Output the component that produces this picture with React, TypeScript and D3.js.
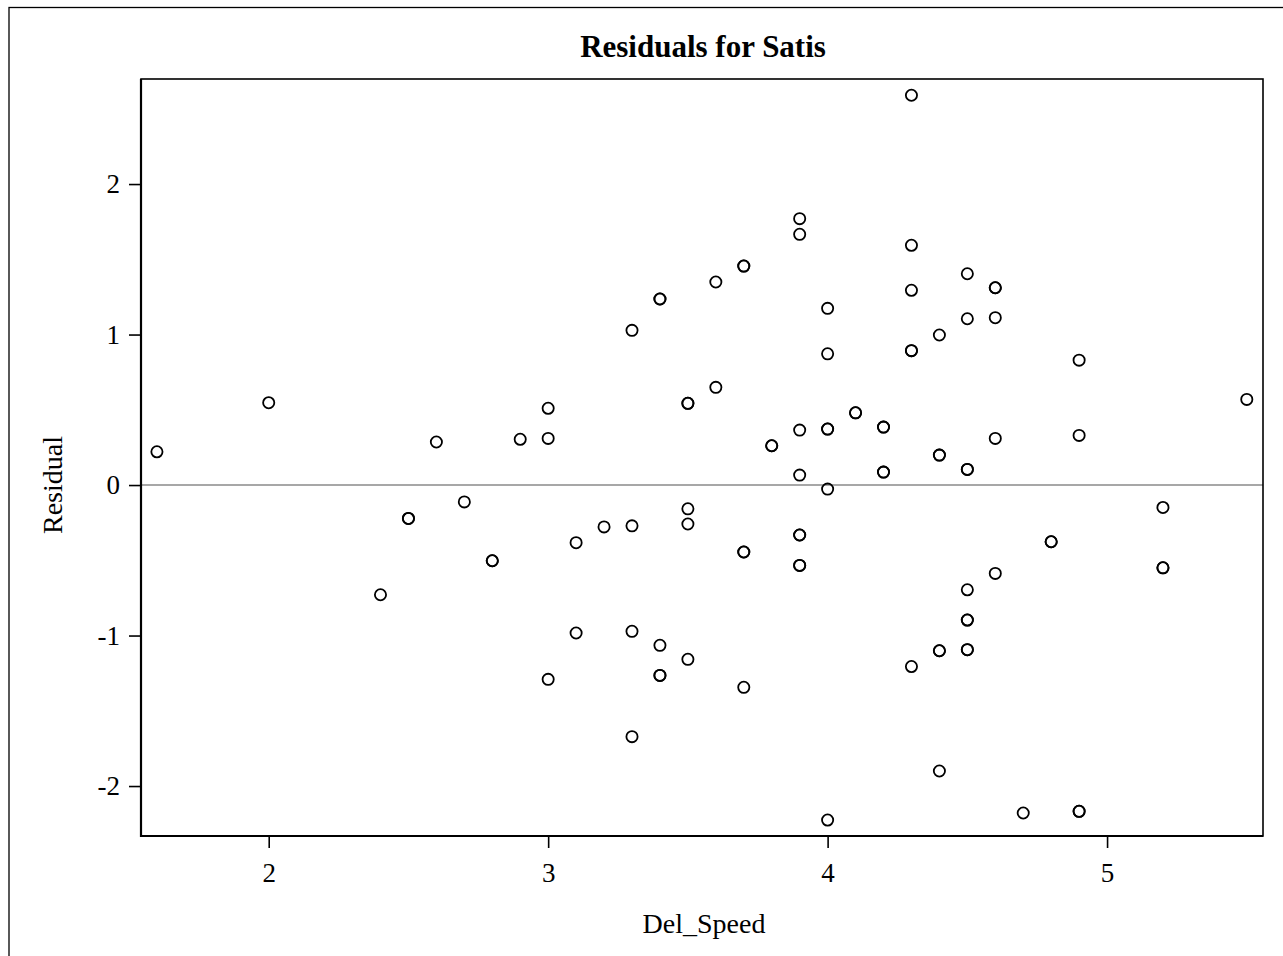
import React, { useEffect, useRef } from 'react'
import * as d3 from 'd3'

// Del_Speed values (x) and residuals (y); repeated pairs are overlapping points
const delSpeed = [
  1.6, 2.0, 2.4, 2.5, 2.5, 2.6, 2.7, 2.8, 2.8, 2.9,
  3.0, 3.0, 3.0, 3.1, 3.1, 3.2, 3.3, 3.3, 3.3, 3.3,
  3.4, 3.4, 3.4, 3.4, 3.4, 3.5, 3.5, 3.5, 3.5, 3.5,
  3.6, 3.6, 3.7, 3.7, 3.7, 3.7, 3.7, 3.8, 3.8, 3.9,
  3.9, 3.9, 3.9, 3.9, 3.9, 3.9, 3.9, 4.0, 4.0, 4.0,
  4.0, 4.0, 4.0, 4.1, 4.1, 4.2, 4.2, 4.2, 4.2, 4.3,
  4.3, 4.3, 4.3, 4.3, 4.3, 4.4, 4.4, 4.4, 4.4, 4.4,
  4.4, 4.5, 4.5, 4.5, 4.5, 4.5, 4.5, 4.5, 4.5, 4.5,
  4.6, 4.6, 4.6, 4.6, 4.6, 4.7, 4.8, 4.8, 4.9, 4.9,
  4.9, 4.9, 5.2, 5.2, 5.2, 5.5
]

const residual = [
  0.221, 0.547, -0.729, -0.222, -0.222, 0.286, -0.112, -0.503, -0.503, 0.304,
  0.51, 0.31, -1.291, -0.383, -0.983, -0.278, 1.028, -0.271, -0.972, -1.672,
  1.236, 1.236, -1.065, -1.265, -1.265, 0.543, 0.543, -0.158, -0.259, -1.158,
  1.349, 0.649, 1.455, 1.455, -0.445, -0.445, -1.344, 0.261, 0.261, 1.77,
  1.666, 0.365, 0.066, -0.332, -0.332, -0.534, -0.534, 1.174, 0.872, 0.372,
  0.372, -0.027, -2.226, 0.48, 0.48, 0.385, 0.385, 0.086, 0.086, 2.59,
  1.593, 1.294, 0.893, 0.893, -1.206, 0.997, 0.199, 0.199, -1.101, -1.101,
  -1.9, 1.404, 1.105, 0.104, 0.104, -0.696, -0.897, -0.897, -1.094, -1.094,
  1.311, 1.311, 1.112, 0.31, -0.587, -2.179, -0.377, -0.377, 0.33, 0.83,
  -2.168, -2.168, -0.149, -0.55, -0.55, 0.569
]

const xTicks = [2, 3, 4, 5]
const yTicks = [-2, -1, 0, 1, 2]

const xDomain = [1.543, 5.558]
const yDomain = [-2.332, 2.698]

const chartTitle = 'Residuals for Satis'
const xLabel = 'Del_Speed'
const yLabel = 'Residual'

export default function App() {
  const node = useRef<SVGSVGElement | null>(null)

  useEffect(() => {
    const width = 1283
    const height = 956
    const left = 141
    const right = 1263
    const top = 79
    const bottom = 836
    const font = '"Liberation Serif", "Times New Roman", serif'

    const svg = d3.select(node.current)
    svg.selectAll('*').remove()

    svg.append('rect').attr('width', width).attr('height', height).attr('fill', '#fff')

    // outer frame (runs off the right and bottom of the picture)
    svg
      .append('rect')
      .attr('x', 9)
      .attr('y', 7.5)
      .attr('width', 1300)
      .attr('height', 1000)
      .attr('fill', 'none')
      .attr('stroke', '#000')
      .attr('stroke-width', 1.3)

    const x = d3.scaleLinear().domain(xDomain).range([left, right])
    const y = d3.scaleLinear().domain(yDomain).range([bottom, top])

    // zero reference line
    svg
      .append('line')
      .attr('x1', left)
      .attr('x2', right)
      .attr('y1', y(0))
      .attr('y2', y(0))
      .attr('stroke', '#8a8a8a')
      .attr('stroke-width', 1.5)

    const fmt = (d: number) => String(d)

    const xAxis = svg
      .append('g')
      .attr('transform', `translate(0, ${bottom})`)
      .call(
        d3
          .axisBottom(x)
          .tickValues(xTicks)
          .tickFormat(fmt)
          .tickSize(12)
          .tickPadding(15)
          .tickSizeOuter(0)
      )
    xAxis.select('.domain').remove()

    const yAxis = svg
      .append('g')
      .attr('transform', `translate(${left}, 0)`)
      .call(
        d3
          .axisLeft(y)
          .tickValues(yTicks)
          .tickFormat(fmt)
          .tickSize(12)
          .tickPadding(9)
          .tickSizeOuter(0)
      )
    yAxis.select('.domain').remove()

    svg
      .selectAll('.tick line')
      .attr('stroke', '#000')
      .attr('stroke-width', 1.6)
    svg
      .selectAll('.tick text')
      .attr('fill', '#000')
      .attr('font-family', font)
      .attr('font-size', 27)

    // plot frame
    svg
      .append('rect')
      .attr('x', left)
      .attr('y', top)
      .attr('width', right - left)
      .attr('height', bottom - top)
      .attr('fill', 'none')
      .attr('stroke', '#000')
      .attr('stroke-width', 1.6)
    svg
      .append('path')
      .attr('d', `M${left},${top}V${bottom}H${right}`)
      .attr('fill', 'none')
      .attr('stroke', '#000')
      .attr('stroke-width', 2.2)

    const points = delSpeed.map((d, i) => ({ x: d, y: residual[i] }))

    svg
      .append('g')
      .selectAll('circle')
      .data(points)
      .enter()
      .append('circle')
      .attr('cx', d => x(d.x))
      .attr('cy', d => y(d.y))
      .attr('r', 5.6)
      .attr('fill', 'none')
      .attr('stroke', '#000')
      .attr('stroke-width', 1.8)

    svg
      .append('text')
      .attr('x', 703)
      .attr('y', 57)
      .attr('text-anchor', 'middle')
      .attr('font-family', font)
      .attr('font-weight', 'bold')
      .attr('font-size', 31)
      .text(chartTitle)

    svg
      .append('text')
      .attr('x', 704)
      .attr('y', 933)
      .attr('text-anchor', 'middle')
      .attr('font-family', font)
      .attr('font-size', 28)
      .text(xLabel)

    svg
      .append('text')
      .attr('transform', `translate(62, ${y(0)}) rotate(-90)`)
      .attr('text-anchor', 'middle')
      .attr('font-family', font)
      .attr('font-size', 28)
      .text(yLabel)
  }, [])

  return (
    <svg
      ref={node}
      width={1283}
      height={956}
      style={{ position: 'absolute', left: 0, top: 0, display: 'block' }}
    />
  )
}
